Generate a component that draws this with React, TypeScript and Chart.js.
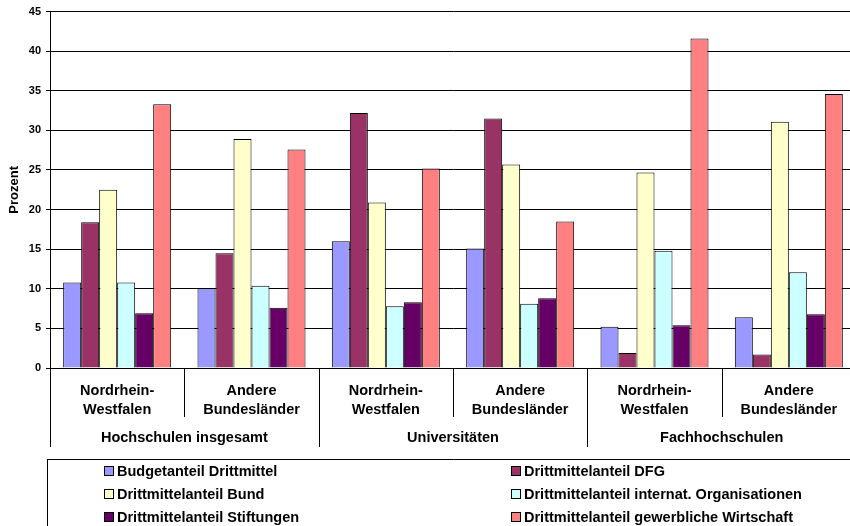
import React, { useEffect, useRef } from "react";
import { Chart, registerables } from "chart.js";

Chart.register(...registerables);

const categories: string[][] = [
  ["Nordrhein-", "Westfalen"],
  ["Andere", "Bundesländer"],
  ["Nordrhein-", "Westfalen"],
  ["Andere", "Bundesländer"],
  ["Nordrhein-", "Westfalen"],
  ["Andere", "Bundesländer"],
];
const groups: string[] = ["Hochschulen insgesamt", "Universitäten", "Fachhochschulen"];

const budgetanteil = [10.8, 10.1, 16.0, 15.1, 5.2, 6.4];
const dfg = [18.4, 14.5, 32.2, 31.5, 1.9, 1.7];
const bund = [22.5, 28.9, 20.9, 25.7, 24.7, 31.1];
const internat = [10.8, 10.4, 7.8, 8.1, 14.8, 12.1];
const stiftungen = [6.9, 7.6, 8.3, 8.8, 5.4, 6.8];
const wirtschaft = [33.3, 27.6, 25.2, 18.5, 41.6, 34.6];

const seriesNames = [
  "Budgetanteil Drittmittel",
  "Drittmittelanteil DFG",
  "Drittmittelanteil Bund",
  "Drittmittelanteil internat. Organisationen",
  "Drittmittelanteil Stiftungen",
  "Drittmittelanteil gewerbliche Wirtschaft",
];
const seriesColors = ["#9999FF", "#993366", "#FFFFCC", "#CCFFFF", "#660066", "#FF8080"];
const seriesData = [budgetanteil, dfg, bund, internat, stiftungen, wirtschaft];

const FONT = "Arial, 'Liberation Sans', sans-serif";

const decorPlugin = {
  id: "decor",
  afterDraw(chart: any) {
    const ctx = chart.ctx;
    const xs = chart.scales.x;
    const bottom = chart.chartArea.bottom;
    ctx.save();
    ctx.strokeStyle = "#000";
    ctx.lineWidth = 1;
    const bounds: number[] = [];
    for (let i = 0; i <= categories.length; i++) {
      bounds.push(xs.getPixelForValue(i - 0.5));
    }
    bounds.forEach((bx, i) => {
      const x = Math.round(bx) + 0.5;
      const end = i % 2 === 0 ? 447 : 417;
      ctx.beginPath();
      ctx.moveTo(x, bottom);
      ctx.lineTo(x, end);
      ctx.stroke();
    });
    // group labels
    ctx.fillStyle = "#000";
    ctx.font = `bold 14.5px ${FONT}`;
    ctx.textAlign = "center";
    ctx.textBaseline = "middle";
    groups.forEach((g, gi) => {
      const cx = (bounds[gi * 2] + bounds[gi * 2 + 2]) / 2;
      ctx.fillText(g, cx, 438);
    });
    // legend box
    ctx.beginPath();
    ctx.moveTo(47, 459.5);
    ctx.lineTo(chart.width, 459.5);
    ctx.moveTo(47.5, 459);
    ctx.lineTo(47.5, chart.height);
    ctx.stroke();
    // legend items
    const colX = [104, 511];
    const rowY = [471, 494, 517];
    ctx.textAlign = "left";
    ctx.font = `bold 14.5px ${FONT}`;
    chart.data.datasets.forEach((ds: any, i: number) => {
      const col = i % 2;
      const row = Math.floor(i / 2);
      const sx = colX[col];
      const sy = rowY[row];
      ctx.fillStyle = ds.backgroundColor;
      ctx.fillRect(sx + 0.5, sy - 4.5, 9, 9);
      ctx.strokeStyle = "#000";
      ctx.strokeRect(sx + 0.5, sy - 4.5, 9, 9);
      ctx.fillStyle = "#000";
      ctx.fillText(ds.label, sx + 13, sy + 1);
    });
    ctx.restore();
  },
};

export default function App() {
  const ref = useRef<HTMLCanvasElement | null>(null);
  useEffect(() => {
    if (!ref.current) return;
    const chart = new Chart(ref.current, {
      type: "bar",
      data: {
        labels: categories,
        datasets: seriesNames.map((name, i) => ({
          label: name,
          data: seriesData[i],
          backgroundColor: seriesColors[i],
          borderColor: "#000",
          borderWidth: 1,
          categoryPercentage: 0.804,
          barPercentage: 1.0,
        })),
      },
      options: {
        animation: false,
        responsive: true,
        maintainAspectRatio: false,
        layout: { padding: { top: 11, right: 4, left: 0, bottom: 0 } },
        plugins: {
          legend: { display: false },
          tooltip: { enabled: false },
        },
        scales: {
          x: {
            grid: { display: false },
            border: { display: true, color: "#000" },
            ticks: {
              color: "#000",
              font: { family: FONT, weight: "bold", size: 14.5, lineHeight: 1.35 },
              padding: 5,
              maxRotation: 0,
              autoSkip: false,
            },
            afterFit(scale: any) {
              scale.height = 158;
            },
          },
          y: {
            min: 0,
            max: 45,
            ticks: {
              stepSize: 5,
              color: "#000",
              font: { family: FONT, weight: "bold", size: 11 },
              padding: 5,
            },
            grid: { color: "#000", tickLength: 4, lineWidth: 1 },
            border: { display: true, color: "#000" },
            title: {
              display: true,
              text: "Prozent",
              color: "#000",
              font: { family: FONT, weight: "bold", size: 13 },
              padding: { top: 7, bottom: 0 },
            },
            afterFit(scale: any) {
              scale.width = 50;
            },
          },
        },
      },
      plugins: [decorPlugin],
    } as any);
    return () => chart.destroy();
  }, []);
  return (
    <div style={{ position: "absolute", left: 0, top: 0, width: 850, height: 526, overflow: "hidden", background: "#fff" }}>
      <div style={{ position: "relative", width: 860, height: 526 }}>
        <canvas ref={ref} />
      </div>
    </div>
  );
}
